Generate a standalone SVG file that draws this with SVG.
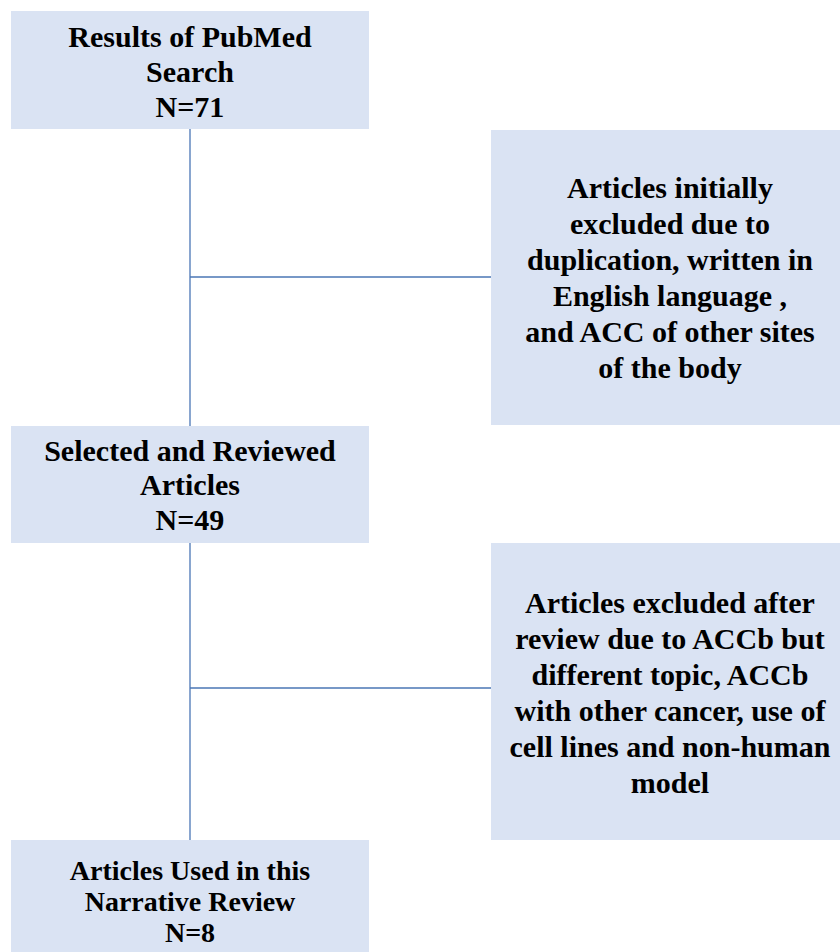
<svg xmlns="http://www.w3.org/2000/svg" width="840" height="952" viewBox="0 0 840 952">
<style>
.box{fill:#dae3f3;stroke:none}
.t{font-family:"Liberation Serif","Times New Roman",serif;font-weight:bold;font-size:30px;fill:#000;text-anchor:middle}
.s{font-size:28px}
.ln{stroke:#4a76b5;stroke-width:1.3;fill:none}
</style>
<rect width="840" height="952" fill="#fff"/>
<g id="connectors">
<line class="ln" x1="190" y1="129" x2="190" y2="426"/>
<line class="ln" x1="190" y1="277" x2="491" y2="277"/>
<line class="ln" x1="190" y1="543" x2="190" y2="840"/>
<line class="ln" x1="190" y1="688" x2="491" y2="688"/>
</g>
<g id="n1">
<rect class="box" x="11" y="11" width="358" height="118"/>
<text class="t" x="190" y="47">Results of PubMed</text>
<text class="t" x="190" y="82">Search</text>
<text class="t" x="190" y="117">N=71</text>
</g>
<g id="n2">
<rect class="box" x="491" y="130" width="360" height="295"/>
<text class="t" x="670" y="198">Articles initially</text>
<text class="t" x="670" y="234">excluded due to</text>
<text class="t" x="670" y="270">duplication, written in</text>
<text class="t" x="670" y="306">English language ,</text>
<text class="t" x="670" y="342">and ACC of other sites</text>
<text class="t" x="670" y="378">of the body</text>
</g>
<g id="n3">
<rect class="box" x="11" y="426" width="358" height="117"/>
<text class="t" x="190" y="461">Selected and Reviewed</text>
<text class="t" x="190" y="495">Articles</text>
<text class="t" x="190" y="530">N=49</text>
</g>
<g id="n4">
<rect class="box" x="491" y="543" width="360" height="297"/>
<text class="t" x="670" y="613">Articles excluded after</text>
<text class="t" x="670" y="649">review due to ACCb but</text>
<text class="t" x="670" y="685">different topic, ACCb</text>
<text class="t" x="670" y="721">with other cancer, use of</text>
<text class="t" x="670" y="757">cell lines and non-human</text>
<text class="t" x="670" y="793">model</text>
</g>
<g id="n5">
<rect class="box" x="11" y="840" width="358" height="120"/>
<text class="t s" x="190" y="880">Articles Used in this</text>
<text class="t s" x="190" y="911">Narrative Review</text>
<text class="t s" x="190" y="942">N=8</text>
</g>
</svg>
